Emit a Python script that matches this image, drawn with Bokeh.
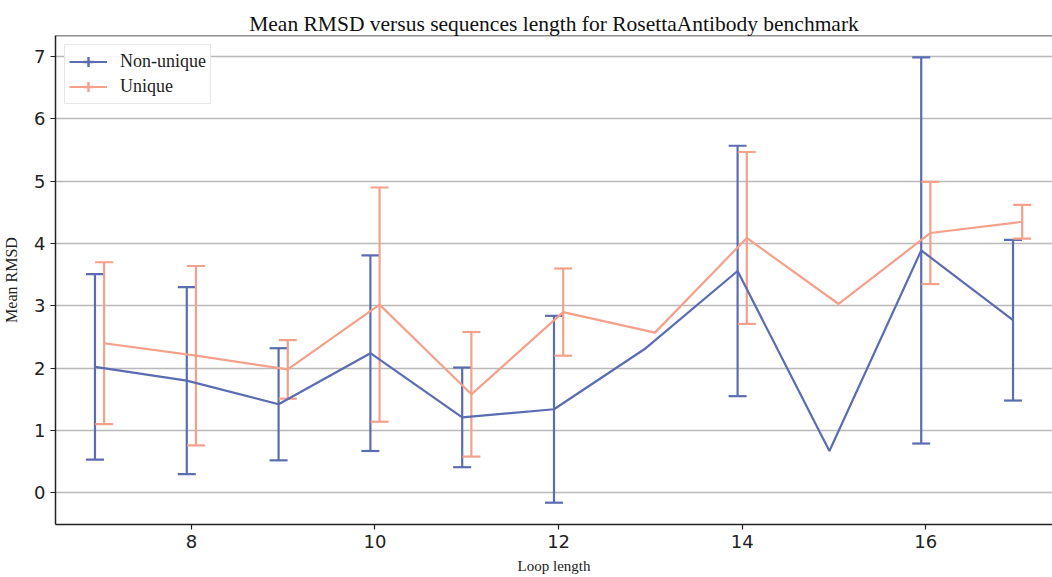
from bokeh.plotting import figure
from bokeh.models import ColumnDataSource, Whisker, TeeHead, Range1d, FixedTicker, Legend, LegendItem, Span
from bokeh.embed import file_html
from bokeh.resources import INLINE

# ---- data ----
loop_length = [7, 8, 9, 10, 11, 12, 13, 14, 15, 16, 17]
nonunique_mean = [2.02, 1.80, 1.42, 2.24, 1.21, 1.34, 2.32, 3.56, 0.67, 3.89, 2.77]
nonunique_err = [1.49, 1.50, 0.90, 1.57, 0.80, 1.50, None, 2.01, None, 3.10, 1.29]
unique_mean = [2.40, 2.20, 1.98, 3.02, 1.58, 2.90, 2.57, 4.09, 3.03, 4.17, 4.35]
unique_err = [1.30, 1.44, 0.47, 1.88, 1.00, 0.70, None, 1.38, None, 0.82, 0.27]
offset = 0.05
title_text = "Mean RMSD versus sequences length for RosettaAntibody benchmark"
x_label = "Loop length"
y_label = "Mean RMSD"
x_ticks = [8, 10, 12, 14, 16]
y_ticks = [0, 1, 2, 3, 4, 5, 6, 7]

BLUE = "#5a6cb2"
SALMON = "#f4a08b"
SERIF = "Liberation Serif"
SANS = "DejaVu Sans"

y_top = 7.34
p = figure(width=1052, height=577, output_backend="svg", toolbar_location=None,
           x_range=Range1d(6.52, 17.38), y_range=Range1d(-0.51, y_top),
           min_border_left=55, min_border_right=0, min_border_top=35, min_border_bottom=53)

p.title.text = title_text
p.title.align = "center"
p.title.text_font = SERIF
p.title.text_font_style = "normal"
p.title.text_font_size = "21.5px"
p.title.text_color = "#111111"
p.title.standoff = 0
p.title.offset = 0

p.outline_line_color = None
p.background_fill_color = "white"
p.border_fill_color = "white"

p.xgrid.grid_line_color = None
p.ygrid.grid_line_color = "#b9b9b9"
p.ygrid.grid_line_width = 1.5
p.ygrid.ticker = FixedTicker(ticks=y_ticks)

p.xaxis.ticker = FixedTicker(ticks=x_ticks)
p.yaxis.ticker = FixedTicker(ticks=y_ticks)
for ax in (p.xaxis[0], p.yaxis[0]):
    ax.axis_line_color = "#222222"
    ax.axis_line_width = 1.5
    ax.major_tick_line_color = "#222222"
    ax.major_tick_line_width = 1.2
    ax.major_tick_out = 5
    ax.major_tick_in = 0
    ax.minor_tick_line_color = None
    ax.major_label_text_font = SANS
    ax.major_label_text_font_size = "18px"
    ax.major_label_text_color = "#222222"
    ax.axis_label_text_font = SERIF
    ax.axis_label_text_font_style = "normal"
    ax.axis_label_text_color = "#222222"
p.xaxis.axis_label = x_label
p.yaxis.axis_label = y_label
p.xaxis.axis_label_text_font_size = "15px"
p.yaxis.axis_label_text_font_size = "16px"
p.xaxis.major_label_standoff = 5
p.xaxis.axis_label_standoff = 7
p.yaxis.major_label_standoff = 5
p.yaxis.axis_label_standoff = 11

p.add_layout(Span(location=y_top, dimension="width", line_color="#222222", line_width=1.5))

def series(xs, means, errs, color, shift):
    xx = [x + shift for x in xs]
    src = ColumnDataSource(dict(x=xx, y=means))
    line = p.line("x", "y", source=src, line_color=color, line_width=2.2)
    ex, lo, hi = [], [], []
    for x, m, e in zip(xx, means, errs):
        if e is not None:
            ex.append(x); lo.append(m - e); hi.append(m + e)
    esrc = ColumnDataSource(dict(base=ex, lower=lo, upper=hi))
    w = Whisker(base="base", lower="lower", upper="upper", source=esrc, dimension="height",
                line_color=color, line_width=2.2,
                upper_head=TeeHead(size=18, line_color=color, line_width=2.2),
                lower_head=TeeHead(size=18, line_color=color, line_width=2.2))
    p.add_layout(w)
    # legend helper: error-bar-like cross glyph (not drawn on the plot)
    bar = p.scatter(x=[float("nan")], y=[float("nan")], marker="cross",
                    size=12, line_color=color, line_width=2.4)
    return [line, bar]

r_nu = series(loop_length, nonunique_mean, nonunique_err, BLUE, -offset)
r_u = series(loop_length, unique_mean, unique_err, SALMON, offset)

legend = Legend(items=[LegendItem(label="Non-unique", renderers=r_nu),
                       LegendItem(label="Unique", renderers=r_u)],
                location="top_left")
legend.label_text_font = SERIF
legend.label_text_font_size = "18px"
legend.label_text_color = "#222222"
legend.glyph_width = 38
legend.glyph_height = 25
legend.label_height = 25
legend.spacing = 0
legend.padding = 4
legend.margin = 9
legend.label_standoff = 13
legend.border_line_color = "#d0d0d0"
legend.border_line_width = 1.2
legend.background_fill_alpha = 0.9
p.add_layout(legend)

open("out.html", "w").write(file_html(p, INLINE))
